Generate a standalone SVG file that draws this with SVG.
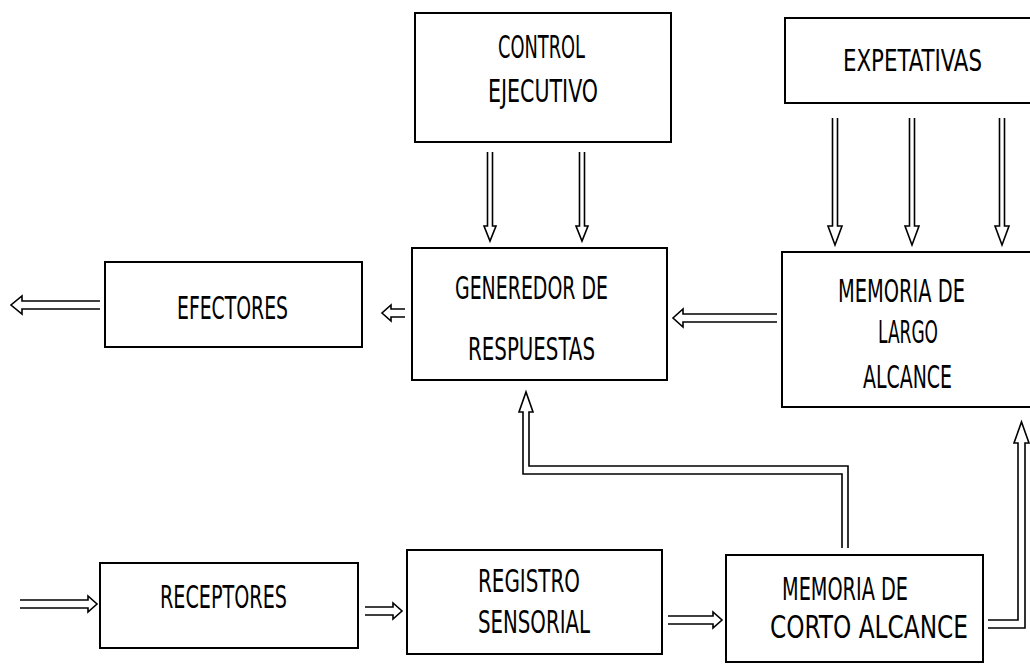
<svg xmlns="http://www.w3.org/2000/svg" width="1030" height="664" viewBox="0 0 1030 664">
<style>
.bx{fill:none;stroke:#000;stroke-width:2}
.ar{fill:none;stroke:#000;stroke-width:1.6;stroke-linejoin:miter}
.t{font-family:"DejaVu Sans Condensed","DejaVu Sans",sans-serif;font-size:32px;fill:#000}
</style>
<rect width="1030" height="664" fill="#fff"/>
<g id="control-ejecutivo">
<rect class="bx" x="415" y="13" width="256" height="129"/>
<text class="t" x="498" y="58" textLength="87" lengthAdjust="spacingAndGlyphs">CONTROL</text>
<text class="t" x="488" y="102" textLength="110" lengthAdjust="spacingAndGlyphs">EJECUTIVO</text>
</g>
<g id="expetativas">
<path class="bx" d="M1032,18 H785 V103 H1032"/>
<text class="t" x="843" y="71" style="font-size:30px" textLength="139" lengthAdjust="spacingAndGlyphs">EXPETATIVAS</text>
</g>
<g id="efectores">
<rect class="bx" x="105" y="262" width="257" height="85"/>
<text class="t" x="177" y="319" textLength="111" lengthAdjust="spacingAndGlyphs">EFECTORES</text>
</g>
<g id="generedor">
<rect class="bx" x="412" y="248" width="255" height="132"/>
<text class="t" x="455" y="299" textLength="153" lengthAdjust="spacingAndGlyphs">GENEREDOR DE</text>
<text class="t" x="468" y="360" textLength="127" lengthAdjust="spacingAndGlyphs">RESPUESTAS</text>
</g>
<g id="memoria-largo">
<path class="bx" d="M1032,252 H782 V407 H1032"/>
<text class="t" x="838" y="302" textLength="127" lengthAdjust="spacingAndGlyphs">MEMORIA DE</text>
<text class="t" x="878" y="343" textLength="60" lengthAdjust="spacingAndGlyphs">LARGO</text>
<text class="t" x="863" y="388" textLength="89" lengthAdjust="spacingAndGlyphs">ALCANCE</text>
</g>
<g id="receptores">
<rect class="bx" x="100" y="563" width="258" height="85"/>
<text class="t" x="160" y="608" textLength="127" lengthAdjust="spacingAndGlyphs">RECEPTORES</text>
</g>
<g id="registro">
<rect class="bx" x="407" y="550" width="255" height="104"/>
<text class="t" x="478" y="592" textLength="102" lengthAdjust="spacingAndGlyphs">REGISTRO</text>
<text class="t" x="478" y="633" textLength="112" lengthAdjust="spacingAndGlyphs">SENSORIAL</text>
</g>
<g id="memoria-corto">
<rect class="bx" x="726" y="555" width="257" height="107"/>
<text class="t" x="782" y="600" textLength="126" lengthAdjust="spacingAndGlyphs">MEMORIA DE</text>
<text class="t" x="770" y="638" textLength="198" lengthAdjust="spacingAndGlyphs">CORTO ALCANCE</text>
</g>
<g id="connectors">
<path class="ar" d="M487.5,152 V226 H484 L490,241 L496,226 H492.5 V152"/>
<path class="ar" d="M579.5,152 V226 H576 L582,241 L588,226 H584.5 V152"/>
<path class="ar" d="M832.5,118 V226 H828 L835,245 L842,226 H837.5 V118"/>
<path class="ar" d="M909.5,118 V226 H905 L912,245 L919,226 H914.5 V118"/>
<path class="ar" d="M999.5,118 V226 H995 L1002,245 L1009,226 H1004.5 V118"/>
<path class="ar" d="M100,301 H22 V296 L11,305 L22,314 V309 H100"/>
<path class="ar" d="M405,309 H391 V305 L382,313 L391,321 V317 H405"/>
<path class="ar" d="M777,314 H683 V309 L673,318 L683,327 V322 H777"/>
<path class="ar" d="M20,600 H88 V596 L97,604 L88,612 V608 H20"/>
<path class="ar" d="M365,607 H393 V603 L402,611 L393,619 V615 H365"/>
<path class="ar" d="M668,616 H713 V612 L722,620 L713,628 V624 H668"/>
<path class="ar" d="M988,628 H1025 V443 H1029 L1021.5,422 L1014,443 H1018 V620 H988"/>
<path class="ar" d="M848,548 V466 H529 V412 H533 L526,392 L519,412 H523 V474 H842 V548"/>
</g>
</svg>
